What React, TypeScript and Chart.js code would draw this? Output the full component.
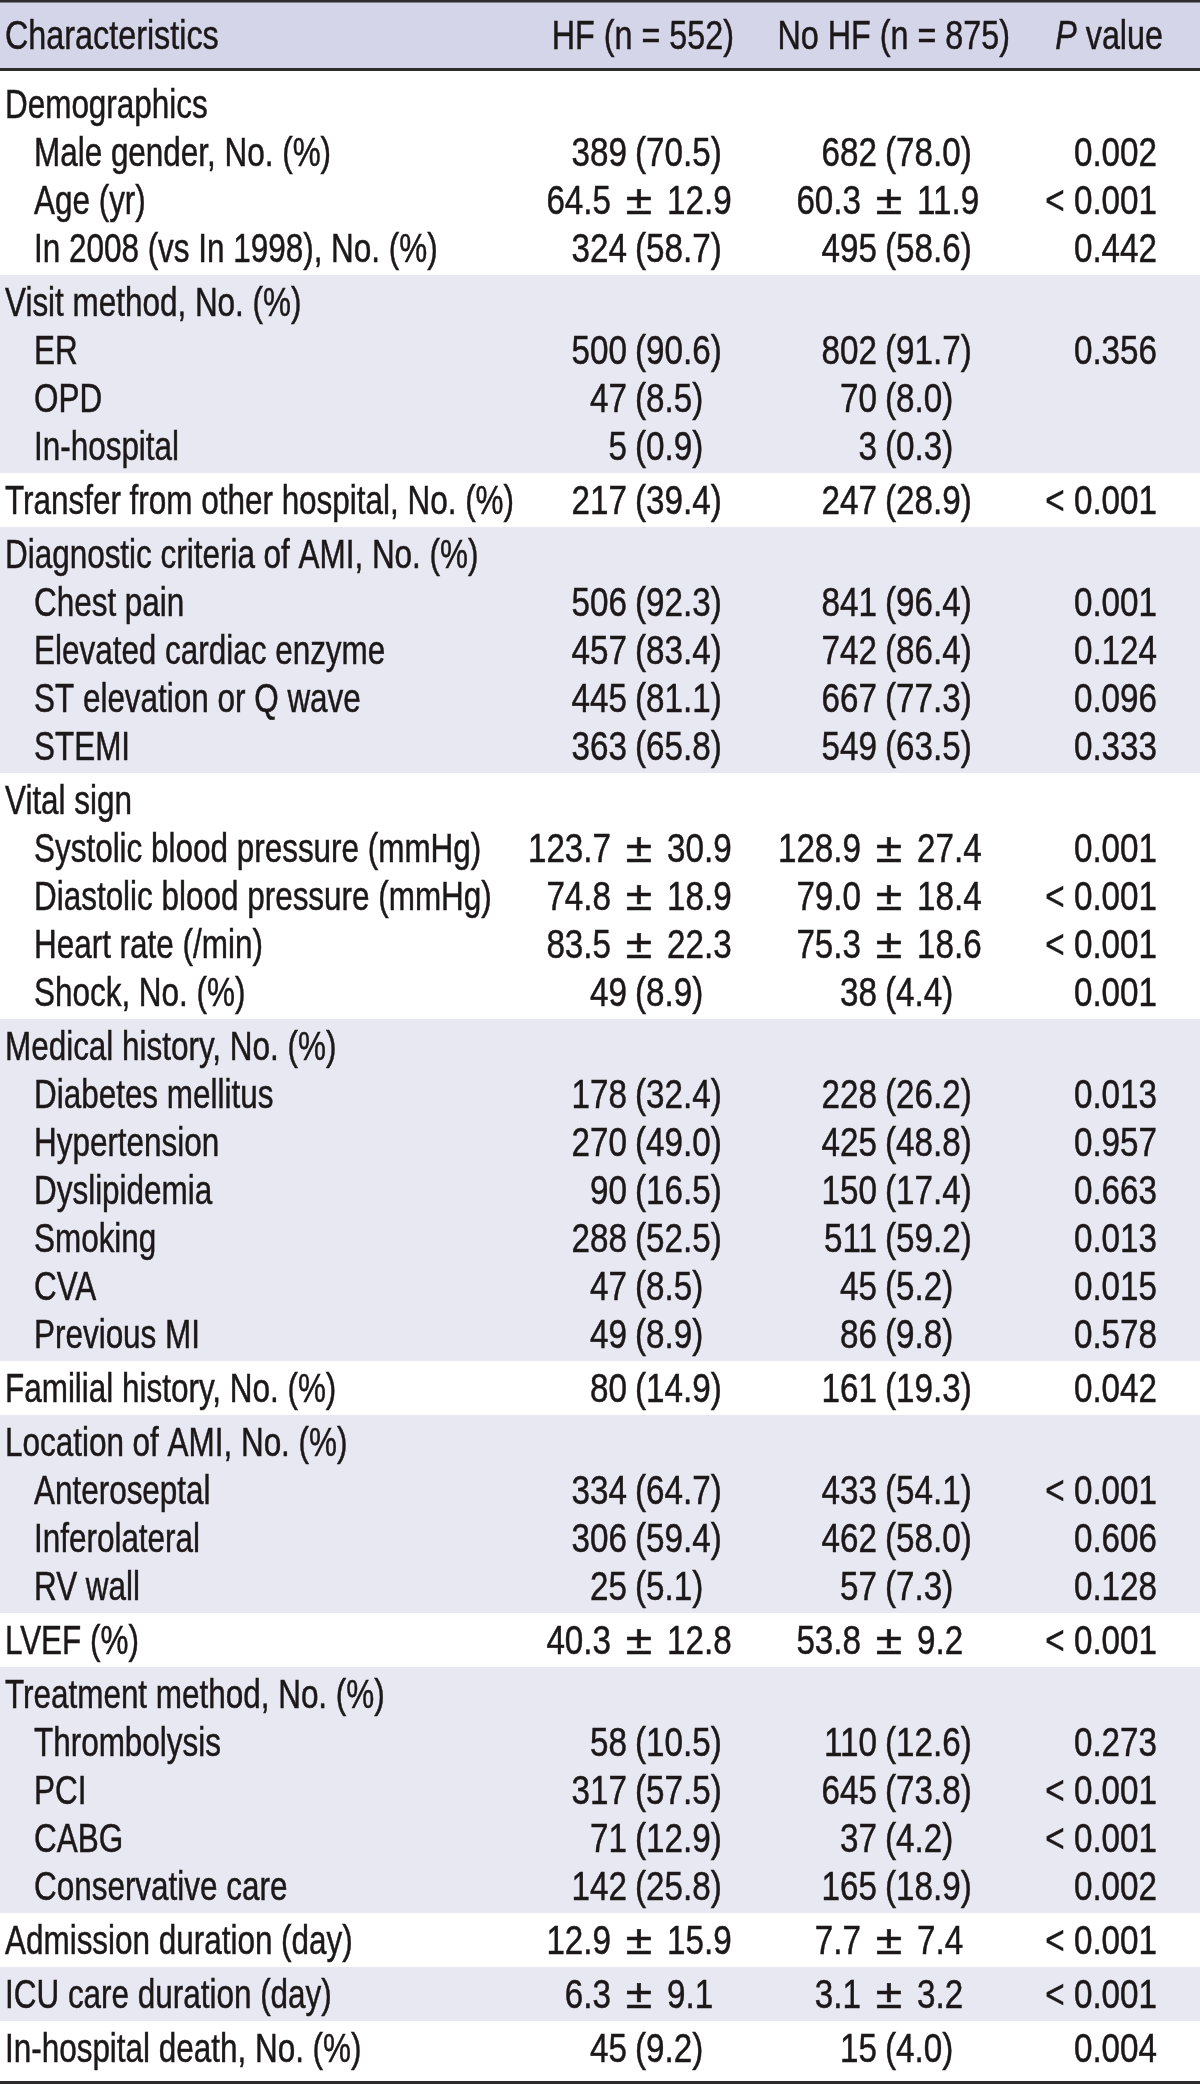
import { useEffect, useRef } from 'react';
import { Chart, registerables } from 'chart.js';

Chart.register(...registerables);

// ---------------- data ----------------
const headerLabels = ['Characteristics', 'HF (n = 552)', 'No HF (n = 875)', 'P value'];

const groupSizes = [4, 4, 1, 5, 5, 7, 1, 4, 1, 5, 1, 1, 1];

const rowLabels = [
  'Demographics',
  'Male gender, No. (%)',
  'Age (yr)',
  'In 2008 (vs In 1998), No. (%)',
  'Visit method, No. (%)',
  'ER',
  'OPD',
  'In-hospital',
  'Transfer from other hospital, No. (%)',
  'Diagnostic criteria of AMI, No. (%)',
  'Chest pain',
  'Elevated cardiac enzyme',
  'ST elevation or Q wave',
  'STEMI',
  'Vital sign',
  'Systolic blood pressure (mmHg)',
  'Diastolic blood pressure (mmHg)',
  'Heart rate (/min)',
  'Shock, No. (%)',
  'Medical history, No. (%)',
  'Diabetes mellitus',
  'Hypertension',
  'Dyslipidemia',
  'Smoking',
  'CVA',
  'Previous MI',
  'Familial history, No. (%)',
  'Location of AMI, No. (%)',
  'Anteroseptal',
  'Inferolateral',
  'RV wall',
  'LVEF (%)',
  'Treatment method, No. (%)',
  'Thrombolysis',
  'PCI',
  'CABG',
  'Conservative care',
  'Admission duration (day)',
  'ICU care duration (day)',
  'In-hospital death, No. (%)',
];

const rowLevels = [
  0, 1, 1, 1,
  0, 1, 1, 1,
  0,
  0, 1, 1, 1, 1,
  0, 1, 1, 1, 1,
  0, 1, 1, 1, 1, 1, 1,
  0,
  0, 1, 1, 1,
  0,
  0, 1, 1, 1, 1,
  0,
  0,
  0,
];

const hfValues = [
  '', '389 (70.5)', '64.5 ± 12.9', '324 (58.7)',
  '', '500 (90.6)', '47 (8.5)', '5 (0.9)',
  '217 (39.4)',
  '', '506 (92.3)', '457 (83.4)', '445 (81.1)', '363 (65.8)',
  '', '123.7 ± 30.9', '74.8 ± 18.9', '83.5 ± 22.3', '49 (8.9)',
  '', '178 (32.4)', '270 (49.0)', '90 (16.5)', '288 (52.5)', '47 (8.5)', '49 (8.9)',
  '80 (14.9)',
  '', '334 (64.7)', '306 (59.4)', '25 (5.1)',
  '40.3 ± 12.8',
  '', '58 (10.5)', '317 (57.5)', '71 (12.9)', '142 (25.8)',
  '12.9 ± 15.9',
  '6.3 ± 9.1',
  '45 (9.2)',
];

const noHfValues = [
  '', '682 (78.0)', '60.3 ± 11.9', '495 (58.6)',
  '', '802 (91.7)', '70 (8.0)', '3 (0.3)',
  '247 (28.9)',
  '', '841 (96.4)', '742 (86.4)', '667 (77.3)', '549 (63.5)',
  '', '128.9 ± 27.4', '79.0 ± 18.4', '75.3 ± 18.6', '38 (4.4)',
  '', '228 (26.2)', '425 (48.8)', '150 (17.4)', '511 (59.2)', '45 (5.2)', '86 (9.8)',
  '161 (19.3)',
  '', '433 (54.1)', '462 (58.0)', '57 (7.3)',
  '53.8 ± 9.2',
  '', '110 (12.6)', '645 (73.8)', '37 (4.2)', '165 (18.9)',
  '7.7 ± 7.4',
  '3.1 ± 3.2',
  '15 (4.0)',
];

const pValues = [
  '', '0.002', '< 0.001', '0.442',
  '', '0.356', '', '',
  '< 0.001',
  '', '0.001', '0.124', '0.096', '0.333',
  '', '0.001', '< 0.001', '< 0.001', '0.001',
  '', '0.013', '0.957', '0.663', '0.013', '0.015', '0.578',
  '0.042',
  '', '< 0.001', '0.606', '0.128',
  '< 0.001',
  '', '0.273', '< 0.001', '< 0.001', '0.002',
  '< 0.001',
  '< 0.001',
  '0.004',
];

// ---------------- layout / style ----------------
const W = 1200;
const H = 2084;
const RULE = 3;
const HEADER_END = 68;
const BODY_TOP = 71;
const EDGE_PAD = 6;
const GROUP_PAD = 3;
const ROW_H = 48;
const FONT_SIZE = 40;
const FAMILY = '"Liberation Sans", Arial, Helvetica, sans-serif';
const LABEL_SX = 0.786;
const NUM_SX = 0.83;
const PM_SX = 1.2;
const HEAD_SX = 0.808;
const TEXT_COLOR = '#1c1819';
const TEXT_STROKE = 0.5;
const RULE_COLOR = '#2e2b2c';
const HEADER_BG = '#d5d5e9';
const SHADE_BG = '#e8e8f2';
const LABEL_X = 5;
const INDENT = 29;
const HF_COL = { pm: 611, paren: 627 };
const NOHF_COL = { pm: 861, paren: 877 };
const P_RIGHT = 1157;
const PM_GAP = 28;
const PAREN_GAP = 8;
const HEADER_RIGHT = [0, 734, 1010, 1163];
const BASELINE_SHIFT = 14.3;

function computeLayout() {
  const centers: number[] = [];
  const bands: { start: number; end: number; shaded: boolean }[] = [];
  let y = BODY_TOP;
  groupSizes.forEach((n, g) => {
    const start = y;
    if (g === 0) y += EDGE_PAD;
    y += GROUP_PAD;
    for (let i = 0; i < n; i++) {
      centers.push(y + ROW_H / 2);
      y += ROW_H;
    }
    y += GROUP_PAD;
    if (g === groupSizes.length - 1) y += EDGE_PAD;
    bands.push({ start, end: y, shaded: g % 2 === 1 });
  });
  return { centers, bands, bodyEnd: y };
}

function drawScaled(
  ctx: CanvasRenderingContext2D,
  text: string,
  x: number,
  y: number,
  align: CanvasTextAlign,
  sx: number,
  italic = false
) {
  ctx.save();
  ctx.font = `${italic ? 'italic ' : ''}${FONT_SIZE}px ${FAMILY}`;
  ctx.fillStyle = TEXT_COLOR;
  ctx.strokeStyle = TEXT_COLOR;
  ctx.lineWidth = TEXT_STROKE;
  ctx.textBaseline = 'alphabetic';
  ctx.textAlign = align;
  ctx.translate(x, y);
  ctx.scale(sx, 1);
  ctx.fillText(text, 0, 0);
  ctx.strokeText(text, 0, 0);
  ctx.restore();
}

function widthScaled(ctx: CanvasRenderingContext2D, text: string, sx: number, italic = false) {
  ctx.save();
  ctx.font = `${italic ? 'italic ' : ''}${FONT_SIZE}px ${FAMILY}`;
  const w = ctx.measureText(text).width * sx;
  ctx.restore();
  return w;
}

function drawValue(
  ctx: CanvasRenderingContext2D,
  v: string,
  col: { pm: number; paren: number },
  y: number,
  xScale: any
) {
  if (!v) return;
  const by = y + BASELINE_SHIFT;
  if (v.includes('±')) {
    const [lead, trail] = v.split('±').map((s) => s.trim());
    const x = xScale.getPixelForValue(col.pm);
    drawScaled(ctx, lead, x, by, 'right', NUM_SX);
    drawScaled(ctx, '±', x + PM_GAP, by, 'center', PM_SX);
    drawScaled(ctx, trail, x + 2 * PM_GAP, by, 'left', NUM_SX);
  } else {
    const idx = v.indexOf(' (');
    const x = xScale.getPixelForValue(col.paren);
    drawScaled(ctx, v.slice(0, idx), x, by, 'right', NUM_SX);
    drawScaled(ctx, v.slice(idx + 1), x + PAREN_GAP, by, 'left', NUM_SX);
  }
}

export default function App() {
  const ref = useRef<HTMLCanvasElement | null>(null);

  useEffect(() => {
    document.body.style.margin = '0';
    const canvas = ref.current;
    if (!canvas) return;
    const { centers, bands, bodyEnd } = computeLayout();

    const labelPts = rowLabels.map((_, i) => ({ x: LABEL_X + rowLevels[i] * INDENT, y: centers[i] }));
    const hfPts = hfValues.map((_, i) => ({ x: HF_COL.pm, y: centers[i] }));
    const noHfPts = noHfValues.map((_, i) => ({ x: NOHF_COL.pm, y: centers[i] }));
    const pPts = pValues.map((_, i) => ({ x: P_RIGHT, y: centers[i] }));

    const tablePlugin = {
      id: 'tablePlugin',
      beforeDatasetsDraw(chart: any) {
        const ctx: CanvasRenderingContext2D = chart.ctx;
        const xs = chart.scales.x;
        const ys = chart.scales.y;
        const x0 = xs.getPixelForValue(0);
        const x1 = xs.getPixelForValue(W);
        const py = (v: number) => ys.getPixelForValue(v);
        ctx.save();
        ctx.fillStyle = '#ffffff';
        ctx.fillRect(x0, py(0), x1 - x0, py(H) - py(0));
        ctx.fillStyle = HEADER_BG;
        ctx.fillRect(x0, py(0), x1 - x0, py(HEADER_END) - py(0));
        bands.forEach((b) => {
          if (!b.shaded) return;
          ctx.fillStyle = SHADE_BG;
          ctx.fillRect(x0, py(b.start), x1 - x0, py(b.end) - py(b.start));
        });
        ctx.fillStyle = RULE_COLOR;
        ctx.fillRect(x0, py(0), x1 - x0, 2.5);
        ctx.fillRect(x0, py(HEADER_END), x1 - x0, RULE);
        ctx.fillRect(x0, py(bodyEnd), x1 - x0, RULE);
        ctx.restore();
      },
      afterDatasetsDraw(chart: any) {
        const ctx: CanvasRenderingContext2D = chart.ctx;
        const xs = chart.scales.x;
        const ys = chart.scales.y;
        // header
        const hy = ys.getPixelForValue(HEADER_END / 2 + 1) + BASELINE_SHIFT;
        drawScaled(ctx, headerLabels[0], xs.getPixelForValue(LABEL_X), hy, 'left', HEAD_SX);
        drawScaled(ctx, headerLabels[1], xs.getPixelForValue(HEADER_RIGHT[1]), hy, 'right', HEAD_SX);
        drawScaled(ctx, headerLabels[2], xs.getPixelForValue(HEADER_RIGHT[2]), hy, 'right', HEAD_SX);
        const pParts = headerLabels[3].split(' ');
        const restText = ' ' + pParts.slice(1).join(' ');
        const pr = xs.getPixelForValue(HEADER_RIGHT[3]);
        const rw = widthScaled(ctx, restText, HEAD_SX);
        drawScaled(ctx, restText, pr, hy, 'right', HEAD_SX);
        drawScaled(ctx, pParts[0], pr - rw, hy, 'right', HEAD_SX, true);

        const metaL = chart.getDatasetMeta(0).data;
        const metaH = chart.getDatasetMeta(1).data;
        const metaN = chart.getDatasetMeta(2).data;
        const metaP = chart.getDatasetMeta(3).data;
        rowLabels.forEach((lab, i) => {
          const el = metaL[i];
          drawScaled(ctx, lab, el.x, el.y + BASELINE_SHIFT, 'left', LABEL_SX);
          drawValue(ctx, hfValues[i], HF_COL, metaH[i].y, xs);
          drawValue(ctx, noHfValues[i], NOHF_COL, metaN[i].y, xs);
          if (pValues[i]) drawScaled(ctx, pValues[i], metaP[i].x, metaP[i].y + BASELINE_SHIFT, 'right', NUM_SX);
        });
      },
    };

    const chart = new Chart(canvas, {
      type: 'scatter',
      data: {
        datasets: [
          { label: 'Characteristics', data: labelPts, pointRadius: 0 },
          { label: 'HF', data: hfPts, pointRadius: 0 },
          { label: 'No HF', data: noHfPts, pointRadius: 0 },
          { label: 'P value', data: pPts, pointRadius: 0 },
        ],
      },
      options: {
        responsive: false,
        animation: false,
        devicePixelRatio: 1,
        layout: { padding: 0 },
        events: [],
        scales: {
          x: { type: 'linear', min: 0, max: W, display: false },
          y: { type: 'linear', min: 0, max: H, reverse: true, display: false },
        },
        plugins: { legend: { display: false }, tooltip: { enabled: false } },
      },
      plugins: [tablePlugin],
    });
    return () => chart.destroy();
  }, []);

  return <canvas ref={ref} width={W} height={H} style={{ display: 'block', width: W, height: H }} />;
}
